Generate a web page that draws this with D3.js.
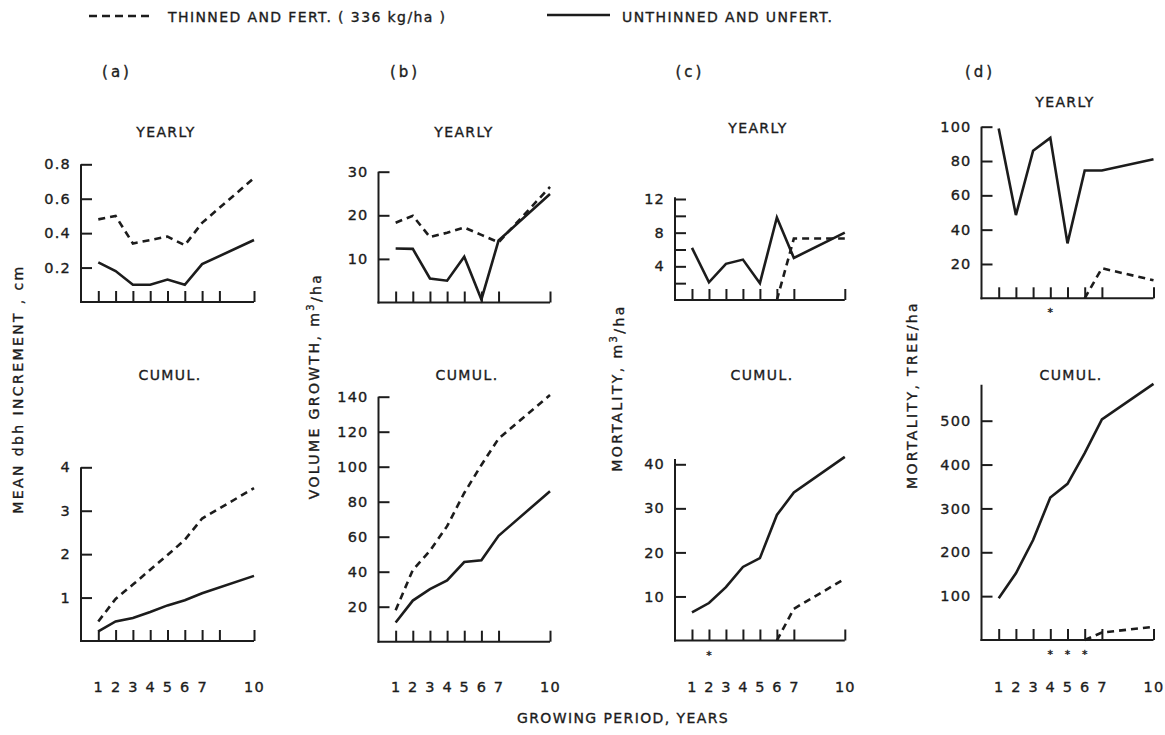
<!DOCTYPE html>
<html><head><meta charset="utf-8">
<script src="https://cdn.jsdelivr.net/npm/d3@7/dist/d3.min.js"></script>
<style>
body{margin:0;background:#fff;}
svg text{font-family:"DejaVu Sans",sans-serif;fill:#1c1c1c;stroke:#1c1c1c;stroke-width:0.35px;font-size:14px;letter-spacing:1.4px;}
.tick text{font-size:14.5px;letter-spacing:1.2px;}
.tick line,.domain{stroke:#1c1c1c;stroke-width:2px;}
.ytitle{letter-spacing:2.4px;}
</style></head><body>
<svg id="chart" width="1165" height="735"></svg>
<script>
// ---------------- DATA ----------------
const years = [1, 2, 3, 4, 5, 6, 7, 10];
const xTicksA = [1, 2, 3, 4, 5, 6, 7, 8, 10];
const xTicksOther = [1, 2, 3, 4, 5, 6, 7, 10];

// (a) mean dbh increment, cm
const dbhYearlyThinned   = [0.48, 0.50, 0.34, 0.36, 0.38, 0.33, 0.46, 0.72];
const dbhYearlyUnthinned = [0.23, 0.18, 0.10, 0.10, 0.13, 0.10, 0.22, 0.36];
const dbhCumulThinned    = [0.45, 0.97, 1.30, 1.64, 1.98, 2.33, 2.82, 3.52];
const dbhCumulUnthinned  = [0.22, 0.45, 0.53, 0.67, 0.82, 0.94, 1.10, 1.50];
// (b) volume growth, m3/ha
const volYearlyThinned   = [18.3, 19.9, 15.0, 16.0, 17.2, 15.5, 13.8, 26.5];
const volYearlyUnthinned = [12.4, 12.3, 5.5, 5.0, 10.5, 0.7, 14.2, 24.9];
const volCumulThinned    = [18, 41, 52, 66, 85, 101, 116, 141];
const volCumulUnthinned  = [11, 23.5, 30, 35, 45.5, 46.5, 60.5, 86];
// (c) mortality, m3/ha
const mortVolYearlyThinned   = [null, null, null, null, null, 0, 7.3, 7.3];
const mortVolYearlyUnthinned = [6.2, 2.1, 4.3, 4.8, 2.0, 9.8, 5.0, 8.0];
const mortVolCumulThinned    = [null, null, null, null, null, 0, 7.2, 14.0];
const mortVolCumulUnthinned  = [6.4, 8.5, 12.1, 16.7, 18.7, 28.5, 33.6, 41.7];
// (d) mortality, trees/ha
const mortTreeYearlyThinned   = [null, null, null, null, null, 0, 17.5, 10.5];
const mortTreeYearlyUnthinned = [99, 48.5, 86, 93.5, 32, 74.5, 74.5, 81];
const mortTreeCumulThinned    = [null, null, null, null, null, 0, 17, 30];
const mortTreeCumulUnthinned  = [95, 152, 228, 325, 356, 426, 503, 584];

// significance markers (years)
const sigMortVolCumul = [2];
const sigMortTreeYearly = [4];
const sigMortTreeCumul = [4, 5, 6];

// tick values
const yTicksDbhYearly = [0.2, 0.4, 0.6, 0.8];
const yTicksDbhCumul = [1, 2, 3, 4];
const yTicksVolYearly = [10, 20, 30];
const yTicksVolCumul = [20, 40, 60, 80, 100, 120, 140];
const yTicksMortVolYearly = [2, 4, 6, 8, 10, 12];
const yLabelsMortVolYearly = [4, 8, 12];
const yTicksMortVolCumul = [10, 20, 30, 40];
const yTicksMortTreeYearly = [20, 40, 60, 80, 100];
const yTicksMortTreeCumul = [100, 200, 300, 400, 500];

// texts
const seriesNames = ["THINNED AND FERT. ( 336 kg/ha )", "UNTHINNED AND UNFERT."];
const panelLetters = ["(a)", "(b)", "(c)", "(d)"];
const rowTitles = ["YEARLY", "CUMUL."];
const yTitles = [
  ["MEAN dbh INCREMENT , cm"],
  ["VOLUME GROWTH, m", "3", "/ha"],
  ["MORTALITY, m", "3", "/ha"],
  ["MORTALITY, TREE/ha"]
];
const xTitle = "GROWING PERIOD, YEARS";

// ---------------- LAYOUT ----------------
const svg = d3.select("#chart");
const cols = [
  {x0: 81,    ppy: 17.3,  letterX: 117, titleX: 18,  titleY: 389, rowTitleX: [166, 170]},
  {x0: 378.5, ppy: 17.15, letterX: 405, titleX: 314, titleY: 386, rowTitleX: [464, 467]},
  {x0: 675,   ppy: 16.98, letterX: 690, titleX: 617, titleY: 388, rowTitleX: [758, 762]},
  {x0: 981.5, ppy: 17.2,  letterX: 980, titleX: 912, titleY: 395, rowTitleX: [1065, 1071]}
];

const fmt1 = d3.format(".1f");
const panels = [
  {col:0, row:0, th:dbhYearlyThinned, un:dbhYearlyUnthinned, yTicks:yTicksDbhYearly, yFmt:fmt1, refV:0.8, zeroPx:302, refPx:164.3, yTop:0.8, rowTitleY:132, xTicks:xTicksA, sig:[]},
  {col:0, row:1, th:dbhCumulThinned, un:dbhCumulUnthinned, yTicks:yTicksDbhCumul, yFmt:d3.format("d"), refV:4, zeroPx:641, refPx:467.3, yTop:4, rowTitleY:375, xTicks:xTicksA, sig:[]},
  {col:1, row:0, th:volYearlyThinned, un:volYearlyUnthinned, yTicks:yTicksVolYearly, yFmt:d3.format("d"), refV:30, zeroPx:302.5, refPx:171.7, yTop:30, rowTitleY:132, xTicks:xTicksOther, sig:[]},
  {col:1, row:1, th:volCumulThinned, un:volCumulUnthinned, yTicks:yTicksVolCumul, yFmt:d3.format("d"), refV:140, zeroPx:641.7, refPx:396.7, yTop:140, rowTitleY:375, xTicks:xTicksOther, sig:[]},
  {col:2, row:0, th:mortVolYearlyThinned, un:mortVolYearlyUnthinned, yTicks:yTicksMortVolYearly, yFmt:d => yLabelsMortVolYearly.includes(d) ? d : "", refV:12, zeroPx:300, refPx:199, yTop:12.2, rowTitleY:128, xTicks:xTicksOther, sig:[]},
  {col:2, row:1, th:mortVolCumulThinned, un:mortVolCumulUnthinned, yTicks:yTicksMortVolCumul, yFmt:d3.format("d"), refV:40, zeroPx:640.5, refPx:464.3, yTop:41.2, rowTitleY:375, xTicks:xTicksOther, sig:sigMortVolCumul},
  {col:3, row:0, th:mortTreeYearlyThinned, un:mortTreeYearlyUnthinned, yTicks:yTicksMortTreeYearly, yFmt:d3.format("d"), refV:100, zeroPx:298.3, refPx:126.7, yTop:100, rowTitleY:102, xTicks:xTicksOther, sig:sigMortTreeYearly},
  {col:3, row:1, th:mortTreeCumulThinned, un:mortTreeCumulUnthinned, yTicks:yTicksMortTreeCumul, yFmt:d3.format("d"), refV:500, zeroPx:640, refPx:420.7, yTop:582, rowTitleY:375, xTicks:xTicksOther, sig:sigMortTreeCumul}
];

const ink = "#1c1c1c";
const xLabelY = 687;

panels.forEach(p => {
  const c = cols[p.col];
  const x = d3.scaleLinear().domain([0, 10]).range([c.x0, c.x0 + 10 * c.ppy]);
  const y = d3.scaleLinear().domain([0, p.refV]).range([p.zeroPx, p.refPx]);
  const g = svg.append("g");

  // y axis
  const yg = g.append("g").attr("transform", `translate(${c.x0},0)`)
    .call(d3.axisLeft(y).tickValues(p.yTicks).tickSizeInner(-11).tickSizeOuter(0).tickPadding(10).tickFormat(p.yFmt));
  yg.select(".domain").attr("d", `M0,${y(0) + 1}V${y(p.yTop)}`);
  yg.attr("font-family", null).attr("font-size", null);

  // x axis
  const labelled = p.row === 1;
  const pad = xLabelY - 5.2 - y(0);
  const xg = g.append("g").attr("transform", `translate(0,${y(0)})`)
    .call(d3.axisBottom(x).tickValues(p.xTicks).tickSizeInner(-11).tickSizeOuter(0).tickPadding(pad)
      .tickFormat(d => (labelled && d !== 8) ? d : ""));
  xg.attr("font-family", null).attr("font-size", null);
  xg.select(".domain").attr("d", `M${c.x0 - 1},0H${x(10)}`);

  // lines
  const line = d3.line().defined(d => d[1] != null).x(d => x(d[0])).y(d => y(d[1]));
  g.append("path").datum(years.map((yr, i) => [yr, p.un[i]]))
    .attr("d", line).attr("fill", "none").attr("stroke", ink).attr("stroke-width", 2.6)
    .attr("stroke-linejoin", "miter");
  g.append("path").datum(years.map((yr, i) => [yr, p.th[i]]))
    .attr("d", line).attr("fill", "none").attr("stroke", ink).attr("stroke-width", 2.6)
    .attr("stroke-dasharray", "7,5");

  // significance asterisks
  g.selectAll(".sig").data(p.sig).join("text").attr("class", "sig")
    .attr("x", d => x(d)).attr("y", y(0) + 18).attr("text-anchor", "middle")
    .style("font-size", "11px").style("letter-spacing", "0px").text("*");

  // row title
  g.append("text").attr("x", c.rowTitleX[p.row]).attr("y", p.rowTitleY).attr("dy", "0.35em")
    .attr("text-anchor", "middle").text(rowTitles[p.row]);
});

// panel letters and y titles
cols.forEach((c, i) => {
  svg.append("text").attr("x", c.letterX).attr("y", 72).attr("dy", "0.35em")
    .attr("text-anchor", "middle").style("letter-spacing", "3px").style("font-size", "15px").text(panelLetters[i]);
  const t = svg.append("text").attr("class", "ytitle")
    .attr("transform", `translate(${c.titleX},${c.titleY}) rotate(-90)`)
    .attr("text-anchor", "middle").attr("dy", "0.35em");
  const parts = yTitles[i];
  t.append("tspan").text(parts[0]);
  if (parts.length > 1) {
    t.append("tspan").attr("dy", "-0.45em").style("font-size", "10px").text(parts[1]);
    t.append("tspan").attr("dy", "0.45em").text(parts[2]);
  }
});

// x title
svg.append("text").attr("x", 623).attr("y", 718).attr("dy", "0.35em")
  .attr("text-anchor", "middle").text(xTitle);

// legend
const leg = svg.append("g");
leg.append("line").attr("x1", 89).attr("x2", 153).attr("y1", 16).attr("y2", 16)
  .attr("stroke", ink).attr("stroke-width", 2.4).attr("stroke-dasharray", "8,5");
leg.append("text").attr("x", 168).attr("y", 17).attr("dy", "0.35em").text(seriesNames[0]);
leg.append("line").attr("x1", 547).attr("x2", 610).attr("y1", 15).attr("y2", 15)
  .attr("stroke", ink).attr("stroke-width", 2.4);
leg.append("text").attr("x", 622).attr("y", 17).attr("dy", "0.35em").text(seriesNames[1]);
</script>
</body></html>
